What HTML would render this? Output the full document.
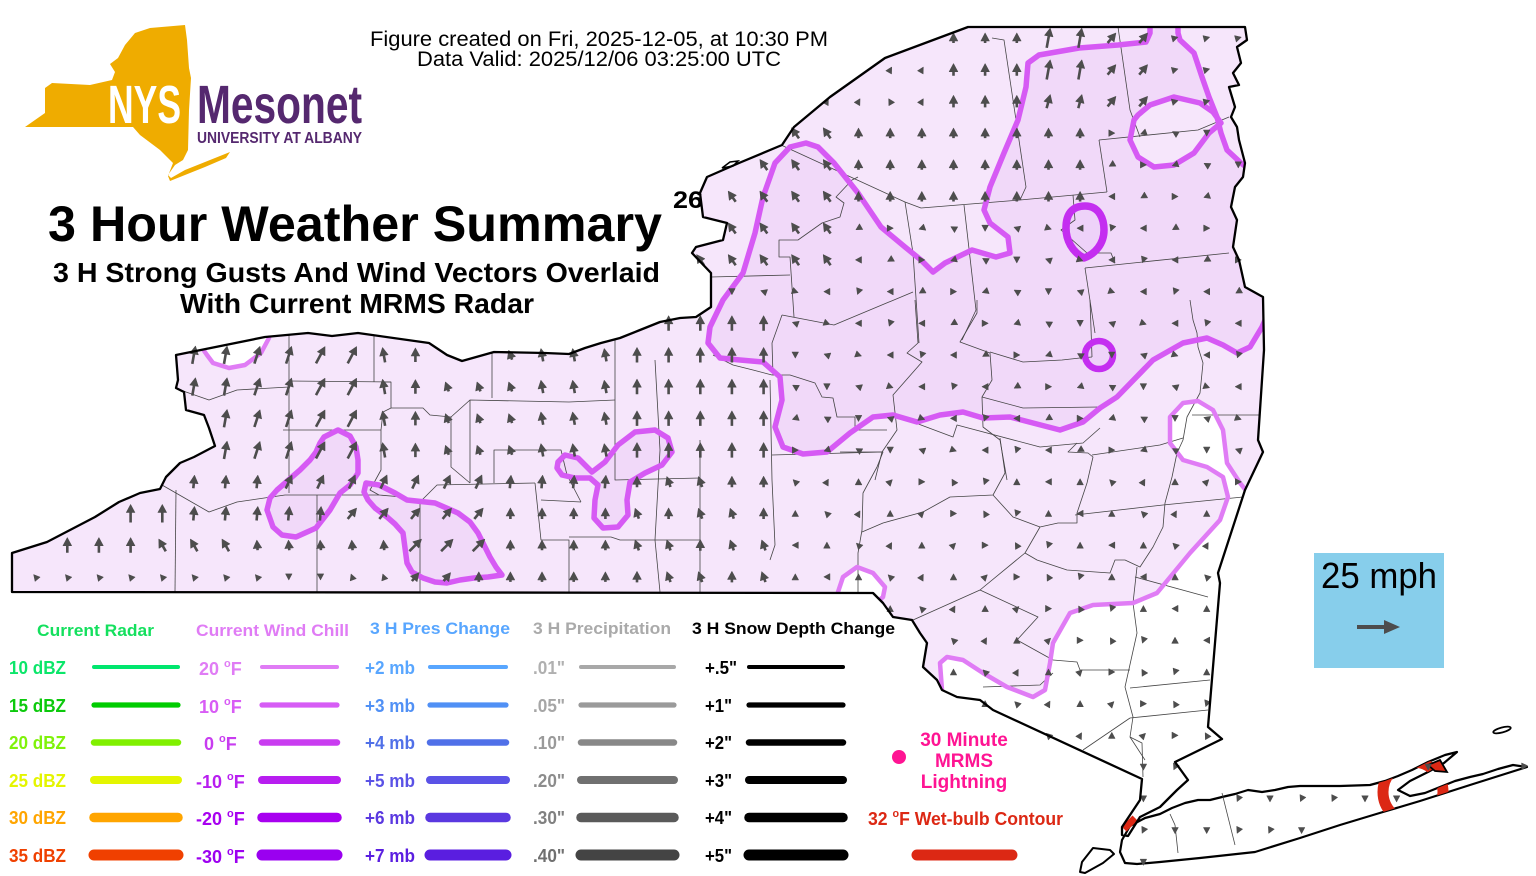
<!DOCTYPE html>
<html>
<head>
<meta charset="utf-8">
<style>
html,body{margin:0;padding:0;background:#fff;}
svg{display:block;}
text{font-family:"Liberation Sans",Arial,sans-serif;}
.b{font-weight:bold;}
</style>
</head>
<body>
<svg id="map" width="1536" height="876" viewBox="0 0 1536 876" xmlns="http://www.w3.org/2000/svg">
<defs>
<clipPath id="stc"><polygon points="12,592 12,553 47,542 95,517 119,502 140,493 160,489 166,477 180,463 194,457 215,446 209,428 204,415 186,410 184,392 176,388 178,380 176,355 265,337 308,333 332,336 358,333 429,343 447,355 462,361 494,352 545,353 569,354 585,348 601,343 620,338 640,330 660,322 680,318 696,317 711,307 711,273 692,253 696,247 723,240 727,223 703,217 700,193 707,177 739,163 782,145 794,127 830,97 885,58 968,27 1245,27 1247,40 1237,47 1241,63 1233,73 1239,85 1229,87 1235,107 1231,117 1237,127 1239,140 1245,163 1243,177 1235,187 1231,207 1237,220 1233,247 1239,260 1245,287 1263,297 1264,350 1258,440 1263,452 1245,490 1218,573 1220,583 1208,727 1222,739 1175,762 1188,780 1177,790 1160,807 1140,817 1128,836 1122,835 1122,827 1140,800 1142,779 993,710 980,700 957,697 942,690 937,680 923,667 927,643 920,633 912,620 893,617 883,603 873,593"/></clipPath>
<clipPath id="lic"><polygon points="1120,852 1122,840 1130,826 1145,818 1160,814 1172,808 1185,803 1198,800 1210,800 1222,797 1235,794 1248,790 1262,792 1275,790 1288,787 1300,786 1340,786 1370,785 1385,781 1398,776 1412,770 1428,762 1445,755 1457,752 1444,763 1428,772 1410,781 1398,790 1410,796 1425,793 1440,787 1455,781 1470,777 1483,774 1498,769 1513,765 1527,767 1470,785 1420,801 1383,812 1340,825 1300,838 1255,852 1200,858 1160,862 1137,864 1125,863"/><polygon points="1428,765 1440,760 1447,772 1435,771"/></clipPath>
</defs>

<polygon id="stp" fill="#fff" points="12,592 12,553 47,542 95,517 119,502 140,493 160,489 166,477 180,463 194,457 215,446 209,428 204,415 186,410 184,392 176,388 178,380 176,355 265,337 308,333 332,336 358,333 429,343 447,355 462,361 494,352 545,353 569,354 585,348 601,343 620,338 640,330 660,322 680,318 696,317 711,307 711,273 692,253 696,247 723,240 727,223 703,217 700,193 707,177 739,163 782,145 794,127 830,97 885,58 968,27 1245,27 1247,40 1237,47 1241,63 1233,73 1239,85 1229,87 1235,107 1231,117 1237,127 1239,140 1245,163 1243,177 1235,187 1231,207 1237,220 1233,247 1239,260 1245,287 1263,297 1264,350 1258,440 1263,452 1245,490 1218,573 1220,583 1208,727 1222,739 1175,762 1188,780 1177,790 1160,807 1140,817 1128,836 1122,835 1122,827 1140,800 1142,779 993,710 980,700 957,697 942,690 937,680 923,667 927,643 920,633 912,620 893,617 883,603 873,593"/>

<g clip-path="url(#stc)">
<polygon fill="#f6e6fb" points="0,0 1300,0 1300,490 1245,490 1240,483 1227,463 1223,430 1213,410 1198,401 1183,403 1170,417 1170,443 1183,460 1207,467 1223,477 1228,497 1220,520 1190,553 1157,593 1133,603 1093,605 1070,613 1053,643 1050,663 1045,690 1033,697 1007,687 983,673 963,660 947,657 940,663 942,690 930,700 0,700"/>
<polygon fill="#f1d9f9" points="1150,15 1150,33 1146,42 1118,45 1079,48 1039,55 1028,63 1026,87 1018,120 1004,153 990,187 984,210 990,223 1008,237 1010,253 996,257 972,250 945,263 933,272 921,260 905,247 881,227 858,193 834,163 818,147 806,143 790,147 775,163 763,197 755,233 743,273 723,300 710,327 708,343 720,358 740,360 763,362 780,377 782,400 775,427 783,447 803,454 827,452 850,433 873,417 893,415 917,422 940,415 963,412 983,418 1010,417 1033,423 1060,430 1083,422 1100,408 1117,397 1153,360 1183,343 1207,338 1223,345 1237,353 1250,347 1262,327 1300,327 1300,163 1245,168 1241,163 1227,150 1221,133 1217,117 1209,97 1202,77 1194,53 1180,40 1178,33 1178,15"/>
<polygon fill="#f6e6fb" points="1134,120 1130,140 1138,157 1154,167 1174,165 1194,153 1209,133 1221,123 1213,112 1200,103 1174,97 1150,105 1138,115"/>
<polygon fill="#fff" points="195,330 200,345 207,355 213,363 229,368 245,365 261,353 269,338 272,325"/>
<polygon fill="#fff" points="836,600 838,592 843,577 857,567 873,573 885,587 883,597 877,602 870,615 836,615"/>
<polygon fill="#f1d9f9" points="338,430 350,436 356,447 358,460 358,473 350,485 340,493 330,510 316,528 296,537 282,535 273,527 267,510 270,498 277,490 300,470 310,460 316,452 320,443 324,437"/>
<polygon fill="#f1d9f9" points="366,483 379,485 395,493 407,500 435,503 458,513 470,522 478,533 484,545 490,557 496,567 502,575 488,577 474,578 460,580 447,583 435,582 423,578 412,572 407,563 405,548 403,533 395,524 387,517 375,508 368,500 364,492"/>
<polygon fill="#f1d9f9" points="558,462 565,455 578,458 592,472 605,462 618,445 635,432 655,430 668,438 672,452 662,465 645,473 630,482 627,500 628,515 618,527 603,528 594,518 595,500 598,485 590,478 575,478 562,475 557,468"/>
<path fill="#eed2f9" d="M1085,206 C1100,206 1104,220 1104,230 C1104,244 1095,254 1084,258 C1072,252 1066,240 1066,228 C1066,214 1072,206 1085,206Z"/>
<circle cx="1099" cy="355" r="14" fill="#eed2f9"/>

<g fill="none" stroke="#444" stroke-width="0.8" stroke-linejoin="round">
<polyline points="176,388 186,392 209,400 237,390 289,387"/>
<polyline points="289,335 289,493"/>
<polyline points="289,381 391,382"/>
<polyline points="283,430 381,430"/>
<polyline points="381,382 391,382 391,408 383,412 381,430 381,470 370,490 379,495"/>
<polyline points="374,335 374,382"/>
<polyline points="162,485 209,512 237,502 285,495 379,495 403,497 420,502"/>
<polyline points="176,490 175,592"/>
<polyline points="317,495 317,592"/>
<polyline points="420,502 420,592"/>
<polyline points="420,502 437,485 535,483"/>
<polyline points="391,408 423,408 430,415 451,417 451,467 470,483"/>
<polyline points="451,417 470,400 569,402 615,400"/>
<polyline points="470,400 470,483"/>
<polyline points="492,353 492,398"/>
<polyline points="615,340 615,480 700,478"/>
<polyline points="494,483 494,450 561,450 567,475 581,502"/>
<polyline points="535,483 541,540 569,540 569,592"/>
<polyline points="541,500 581,502"/>
<polyline points="569,537 611,537 620,540 700,540"/>
<polyline points="655,360 660,450 655,540 660,592"/>
<polyline points="700,440 700,592"/>
<polyline points="992,38 1004,40 1016,120 1026,187 1020,200"/>
<polyline points="1118,27 1130,110 1140,137"/>
<polyline points="781,145 905,202 921,208 1020,200 1107,192"/>
<polyline points="1099,140 1107,192"/>
<polyline points="1099,140 1198,130 1229,117"/>
<polyline points="905,202 913,253 919,343"/>
<polyline points="964,205 976,310 962,340"/>
<polyline points="1073,195 1075,220 1061,230 1087,253 1111,253 1115,263"/>
<polyline points="1085,268 1229,253"/>
<polyline points="1085,268 1095,333"/>
<polyline points="858,177 852,180 836,197 844,203 840,217 822,223 798,240 779,240 779,257 790,257 794,317"/>
<polyline points="711,277 790,275"/>
<polyline points="782,315 834,325 913,292"/>
<polyline points="782,315 772,343 773,375"/>
<polyline points="713,355 733,365 753,370 772,375 790,375 815,383 822,397 833,398 837,417 855,417 855,430 887,430"/>
<polyline points="915,300 918,343 907,353 922,362 893,395 897,430 882,452 875,480"/>
<polyline points="977,300 977,313 960,342 990,353 992,380 982,397 983,427 1000,440 1007,480"/>
<polyline points="990,352 1023,362 1062,360 1080,358 1092,357"/>
<polyline points="982,397 1023,408 1100,407"/>
<polyline points="913,422 953,437 957,425 1040,447 1083,443 1100,428"/>
<polyline points="772,455 882,452"/>
<polyline points="770,380 772,480 775,545 770,560"/>
<polyline points="1090,300 1092,357"/>
<polyline points="840,452 883,452 877,467 863,493 862,530 858,553 858,592"/>
<polyline points="1000,438 1005,473 993,495 950,497 923,512 883,523 862,532"/>
<polyline points="993,495 1013,517 1040,527 1058,523 1077,523 1077,513 1087,483 1093,457 1088,453 1068,452 1077,443"/>
<polyline points="1040,527 1025,553 1037,560 1067,570 1110,573 1115,560 1125,560 1140,567 1153,547 1163,527 1165,503 1172,477 1177,453 1183,440 1187,417 1200,393 1203,363 1198,347 1197,333 1193,320 1190,300"/>
<polyline points="1092,455 1160,445 1183,438"/>
<polyline points="1075,515 1163,505 1243,497"/>
<polyline points="1192,415 1260,415"/>
<polyline points="1025,553 980,590 913,620"/>
<polyline points="980,590 1038,617 1017,640 1053,660"/>
<polyline points="1137,567 1133,603 1137,633 1125,687 1133,717 1130,737 1145,760"/>
<polyline points="1135,577 1208,597"/>
<polyline points="1053,660 1077,662 1080,670 1130,670"/>
<polyline points="983,687 1040,685 1053,673"/>
<polyline points="1130,688 1210,680"/>
<polyline points="1130,718 1208,710"/>
<polyline points="1130,718 1083,750"/>
<polyline points="1130,737 1142,743 1143,777"/>
</g>

<g fill="none" stroke-linejoin="round" stroke-linecap="round">
<polyline stroke="#e07cf5" stroke-width="4.5" points="942,690 940,663 947,657 963,660 983,673 1007,687 1033,697 1045,690 1050,663 1053,643 1070,613 1093,605 1133,603 1157,593 1190,553 1220,520 1228,497 1223,477 1207,467 1183,460 1170,443 1170,417 1183,403 1198,401 1213,410 1223,430 1227,463 1240,483 1248,493"/>
<polyline stroke="#e07cf5" stroke-width="4.5" points="195,330 200,345 207,355 213,363 229,368 245,365 261,353 269,338 272,325"/>
<polyline stroke="#e07cf5" stroke-width="4.5" points="836,600 838,592 843,577 857,567 873,573 885,587 883,597 877,602"/>
<polyline stroke="#d65af4" stroke-width="5.5" points="1150,15 1150,33 1146,42 1118,45 1079,48 1039,55 1028,63 1026,87 1018,120 1004,153 990,187 984,210 990,223 1008,237 1010,253 996,257 972,250 945,263 933,272 921,260 905,247 881,227 858,193 834,163 818,147 806,143 790,147 775,163 763,197 755,233 743,273 723,300 710,327 708,343 720,358 740,360 763,362 780,377 782,400 775,427 783,447 803,454 827,452 850,433 873,417 893,415 917,422 940,415 963,412 983,418 1010,417 1033,423 1060,430 1083,422 1100,408 1117,397 1153,360 1183,343 1207,338 1223,345 1237,353 1250,347 1262,327 1266,318"/>
<polyline stroke="#d65af4" stroke-width="5.5" points="1178,15 1178,33 1180,40 1194,53 1202,77 1209,97 1217,117 1221,133 1227,150 1241,163 1250,170"/>
<polygon stroke="#d65af4" stroke-width="5.5" points="1134,120 1130,140 1138,157 1154,167 1174,165 1194,153 1209,133 1221,123 1213,112 1200,103 1174,97 1150,105 1138,115"/>
<polygon stroke="#d65af4" stroke-width="5.5" points="338,430 350,436 356,447 358,460 358,473 350,485 340,493 330,510 316,528 296,537 282,535 273,527 267,510 270,498 277,490 300,470 310,460 316,452 320,443 324,437"/>
<polygon stroke="#d65af4" stroke-width="5.5" points="366,483 379,485 395,493 407,500 435,503 458,513 470,522 478,533 484,545 490,557 496,567 502,575 488,577 474,578 460,580 447,583 435,582 423,578 412,572 407,563 405,548 403,533 395,524 387,517 375,508 368,500 364,492"/>
<polygon stroke="#d65af4" stroke-width="5.5" points="558,462 565,455 578,458 592,472 605,462 618,445 635,432 655,430 668,438 672,452 662,465 645,473 630,482 627,500 628,515 618,527 603,528 594,518 595,500 598,485 590,478 575,478 562,475 557,468"/>
<path stroke="#c42ef0" stroke-width="7.5" d="M1085,206 C1100,206 1104,220 1104,230 C1104,244 1095,254 1084,258 C1072,252 1066,240 1066,228 C1066,214 1072,206 1085,206Z"/>
<circle cx="1099" cy="355" r="14" stroke="#c42ef0" stroke-width="6.5"/>
</g>
</g>

<polygon id="lip" fill="#fff" stroke="#000" stroke-width="2.2" stroke-linejoin="round" points="1120,852 1122,840 1130,826 1145,818 1160,814 1172,808 1185,803 1198,800 1210,800 1222,797 1235,794 1248,790 1262,792 1275,790 1288,787 1300,786 1340,786 1370,785 1385,781 1398,776 1412,770 1428,762 1445,755 1457,752 1444,763 1428,772 1410,781 1398,790 1410,796 1425,793 1440,787 1455,781 1470,777 1483,774 1498,769 1513,765 1527,767 1470,785 1420,801 1383,812 1340,825 1300,838 1255,852 1200,858 1160,862 1137,864 1125,863"/>
<g fill="none" stroke="#444" stroke-width="0.8">
<polyline points="1222,793 1235,845"/>
<polyline points="1170,814 1175,825 1178,853"/>
</g>
<g clip-path="url(#lic)">
<circle cx="1413" cy="792" r="30" fill="none" stroke="#dc2814" stroke-width="11"/>
<polygon fill="#dc2814" points="1428,765 1440,760 1447,772 1435,771"/>
</g>
<polygon fill="none" stroke="#000" stroke-width="1.8" points="1428,765 1440,760 1447,772 1435,771"/>
<polygon fill="#fff" stroke="#000" stroke-width="2" stroke-linejoin="round" points="1080,872 1082,862 1093,848 1110,850 1114,854 1103,863 1085,873"/>
<ellipse cx="1502" cy="730" rx="9" ry="2.5" transform="rotate(-15 1502 730)" fill="#fff" stroke="#000" stroke-width="1.8"/>
<polygon fill="#fff" stroke="#000" stroke-width="1.5" points="722,168 730,162 738,161 733,166"/>
<line x1="1124" y1="829" x2="1135" y2="818" stroke="#dc2814" stroke-width="7"/>

<path id="ash" fill="none" stroke="#4d4d4d" stroke-width="2.6" d=""/>
<path id="ahd" fill="#4d4d4d" stroke="#4d4d4d" stroke-width="0.6" stroke-linejoin="round" d=""/>

<polygon fill="none" stroke="#000" stroke-width="2.3" stroke-linejoin="round" points="12,592 12,553 47,542 95,517 119,502 140,493 160,489 166,477 180,463 194,457 215,446 209,428 204,415 186,410 184,392 176,388 178,380 176,355 265,337 308,333 332,336 358,333 429,343 447,355 462,361 494,352 545,353 569,354 585,348 601,343 620,338 640,330 660,322 680,318 696,317 711,307 711,273 692,253 696,247 723,240 727,223 703,217 700,193 707,177 739,163 782,145 794,127 830,97 885,58 968,27 1245,27 1247,40 1237,47 1241,63 1233,73 1239,85 1229,87 1235,107 1231,117 1237,127 1239,140 1245,163 1243,177 1235,187 1231,207 1237,220 1233,247 1239,260 1245,287 1263,297 1264,350 1258,440 1263,452 1245,490 1218,573 1220,583 1208,727 1222,739 1175,762 1188,780 1177,790 1160,807 1140,817 1128,836 1122,835 1122,827 1140,800 1142,779 993,710 980,700 957,697 942,690 937,680 923,667 927,643 920,633 912,620 893,617 883,603 873,593"/>

<polygon fill="#efac00" points="25,127 45,113 45,88 52,83 90,85 112,80 115,72 110,64 118,58 125,45 135,33 150,28 185,25 187,40 189,68 191,78 189,110 188,150 183,160 175,165 168,175 171,178 185,170 200,164 215,158 230,152 226,158 205,167 185,175 170,181 168,176 173,163 160,150 140,135 133,127"/>
<text x="108" y="123" class="b" font-family="'Liberation Sans Narrow','Liberation Sans',sans-serif" font-size="54" fill="#fff" textLength="73" lengthAdjust="spacingAndGlyphs">NYS</text>
<text x="197" y="123" class="b" font-family="'Liberation Sans Narrow','Liberation Sans',sans-serif" font-size="54" fill="#55286f" textLength="165" lengthAdjust="spacingAndGlyphs">Mesonet</text>
<text x="197" y="143" class="b" font-family="'Liberation Sans Narrow','Liberation Sans',sans-serif" font-size="16" fill="#55286f" textLength="165" lengthAdjust="spacingAndGlyphs">UNIVERSITY AT ALBANY</text>

<text x="370" y="46" font-size="21" fill="#000" textLength="458" lengthAdjust="spacingAndGlyphs">Figure created on Fri, 2025-12-05, at 10:30 PM</text>
<text x="417" y="66" font-size="21" fill="#000" textLength="364" lengthAdjust="spacingAndGlyphs">Data Valid: 2025/12/06 03:25:00 UTC</text>
<text x="48" y="241" class="b" font-size="50" fill="#000" textLength="614" lengthAdjust="spacingAndGlyphs">3 Hour Weather Summary</text>
<text x="53" y="282" class="b" font-size="28" fill="#000" textLength="607" lengthAdjust="spacingAndGlyphs">3 H Strong Gusts And Wind Vectors Overlaid</text>
<text x="180" y="313" class="b" font-size="28" fill="#000" textLength="354" lengthAdjust="spacingAndGlyphs">With Current MRMS Radar</text>
<text x="673" y="208" class="b" font-size="24" fill="#000" textLength="30" lengthAdjust="spacingAndGlyphs">26</text>

<rect x="1314" y="553" width="130" height="115" fill="#87ceeb"/>
<text x="1321" y="588" font-size="36" fill="#000" textLength="116" lengthAdjust="spacingAndGlyphs">25 mph</text>
<line x1="1357" y1="627" x2="1386" y2="627" stroke="#4d4d4d" stroke-width="4"/>
<polygon fill="#4d4d4d" points="1400,627 1384,620 1384,634"/>

<g class="b" font-weight="bold">
<text x="37" y="636" font-size="17" fill="#14e05e" textLength="117" lengthAdjust="spacingAndGlyphs">Current Radar</text>
<text x="196" y="636" font-size="17" fill="#e07cf5" textLength="153" lengthAdjust="spacingAndGlyphs">Current Wind Chill</text>
<text x="370" y="634" font-size="17" fill="#58a6ff" textLength="140" lengthAdjust="spacingAndGlyphs">3 H Pres Change</text>
<text x="533" y="634" font-size="17" fill="#aaaaaa" textLength="138" lengthAdjust="spacingAndGlyphs">3 H Precipitation</text>
<text x="692" y="634" font-size="17" fill="#000" textLength="203" lengthAdjust="spacingAndGlyphs">3 H Snow Depth Change</text>

<g font-size="18">
<text x="9" y="674" fill="#0be66a" textLength="57" lengthAdjust="spacingAndGlyphs">10 dBZ</text>
<text x="9" y="712" fill="#0cc90c" textLength="57" lengthAdjust="spacingAndGlyphs">15 dBZ</text>
<text x="9" y="749" fill="#7ff20a" textLength="57" lengthAdjust="spacingAndGlyphs">20 dBZ</text>
<text x="9" y="787" fill="#e4f500" textLength="57" lengthAdjust="spacingAndGlyphs">25 dBZ</text>
<text x="9" y="824" fill="#ffa500" textLength="57" lengthAdjust="spacingAndGlyphs">30 dBZ</text>
<text x="9" y="862" fill="#ef4000" textLength="57" lengthAdjust="spacingAndGlyphs">35 dBZ</text>

<text x="199" y="675" fill="#e07cf5">20 <tspan font-size="11" dy="-8">o</tspan><tspan dy="8">F</tspan></text>
<text x="199" y="713" fill="#d85cf5">10 <tspan font-size="11" dy="-8">o</tspan><tspan dy="8">F</tspan></text>
<text x="204" y="750" fill="#c83cf0">0 <tspan font-size="11" dy="-8">o</tspan><tspan dy="8">F</tspan></text>
<text x="196" y="788" fill="#b81ef0">-10 <tspan font-size="11" dy="-8">o</tspan><tspan dy="8">F</tspan></text>
<text x="196" y="825" fill="#a800f0">-20 <tspan font-size="11" dy="-8">o</tspan><tspan dy="8">F</tspan></text>
<text x="196" y="863" fill="#9c00f0">-30 <tspan font-size="11" dy="-8">o</tspan><tspan dy="8">F</tspan></text>

<text x="365" y="674" fill="#58a6ff" textLength="50" lengthAdjust="spacingAndGlyphs">+2 mb</text>
<text x="365" y="712" fill="#5090f5" textLength="50" lengthAdjust="spacingAndGlyphs">+3 mb</text>
<text x="365" y="749" fill="#5070e8" textLength="50" lengthAdjust="spacingAndGlyphs">+4 mb</text>
<text x="365" y="787" fill="#5a52e6" textLength="50" lengthAdjust="spacingAndGlyphs">+5 mb</text>
<text x="365" y="824" fill="#5a38e0" textLength="50" lengthAdjust="spacingAndGlyphs">+6 mb</text>
<text x="365" y="862" fill="#5a1ee0" textLength="50" lengthAdjust="spacingAndGlyphs">+7 mb</text>

<text x="533" y="674" fill="#b0b0b0" textLength="32" lengthAdjust="spacingAndGlyphs">.01"</text>
<text x="533" y="712" fill="#a6a6a6" textLength="32" lengthAdjust="spacingAndGlyphs">.05"</text>
<text x="533" y="749" fill="#9a9a9a" textLength="32" lengthAdjust="spacingAndGlyphs">.10"</text>
<text x="533" y="787" fill="#8c8c8c" textLength="32" lengthAdjust="spacingAndGlyphs">.20"</text>
<text x="533" y="824" fill="#808080" textLength="32" lengthAdjust="spacingAndGlyphs">.30"</text>
<text x="533" y="862" fill="#707070" textLength="32" lengthAdjust="spacingAndGlyphs">.40"</text>

<text x="705" y="674" fill="#000" textLength="32" lengthAdjust="spacingAndGlyphs">+.5"</text>
<text x="705" y="712" fill="#000" textLength="27" lengthAdjust="spacingAndGlyphs">+1"</text>
<text x="705" y="749" fill="#000" textLength="27" lengthAdjust="spacingAndGlyphs">+2"</text>
<text x="705" y="787" fill="#000" textLength="27" lengthAdjust="spacingAndGlyphs">+3"</text>
<text x="705" y="824" fill="#000" textLength="27" lengthAdjust="spacingAndGlyphs">+4"</text>
<text x="705" y="862" fill="#000" textLength="27" lengthAdjust="spacingAndGlyphs">+5"</text>
</g>

<g font-size="19" fill="#ff1493" text-anchor="middle">
<text x="964" y="746">30 Minute</text>
<text x="964" y="767">MRMS</text>
<text x="964" y="788">Lightning</text>
</g>
<circle cx="899" cy="757" r="7" fill="#ff1493"/>
<text x="868" y="825" font-size="18" fill="#dc2814" textLength="195" lengthAdjust="spacingAndGlyphs">32 <tspan font-size="11" dy="-8">o</tspan><tspan dy="8">F Wet-bulb Contour</tspan></text>
</g>

<g stroke-linecap="round" fill="none">
<line x1="94" y1="667" x2="178" y2="667" stroke="#00e66e" stroke-width="4"/>
<line x1="94" y1="705" x2="178" y2="705" stroke="#00cc00" stroke-width="5.2"/>
<line x1="94" y1="742.5" x2="178" y2="742.5" stroke="#80f000" stroke-width="6.5"/>
<line x1="94" y1="780" x2="178" y2="780" stroke="#e4f500" stroke-width="8"/>
<line x1="94" y1="817.5" x2="178" y2="817.5" stroke="#ffa500" stroke-width="9.5"/>
<line x1="94" y1="855" x2="178" y2="855" stroke="#f04000" stroke-width="11"/>

<line x1="262" y1="667" x2="337" y2="667" stroke="#e07cf5" stroke-width="4"/>
<line x1="262" y1="705" x2="337" y2="705" stroke="#d65cf5" stroke-width="5.2"/>
<line x1="262" y1="742.5" x2="337" y2="742.5" stroke="#c93cf0" stroke-width="6.5"/>
<line x1="262" y1="780" x2="337" y2="780" stroke="#b81ef0" stroke-width="8"/>
<line x1="262" y1="817.5" x2="337" y2="817.5" stroke="#a800f0" stroke-width="9.5"/>
<line x1="262" y1="855" x2="337" y2="855" stroke="#9a00f0" stroke-width="11"/>

<line x1="430" y1="667" x2="506" y2="667" stroke="#58a6ff" stroke-width="4"/>
<line x1="430" y1="705" x2="506" y2="705" stroke="#5090f5" stroke-width="5.2"/>
<line x1="430" y1="742.5" x2="506" y2="742.5" stroke="#5070e8" stroke-width="6.5"/>
<line x1="430" y1="780" x2="506" y2="780" stroke="#5a52e6" stroke-width="8"/>
<line x1="430" y1="817.5" x2="506" y2="817.5" stroke="#5a38e0" stroke-width="9.5"/>
<line x1="430" y1="855" x2="506" y2="855" stroke="#5a1ee0" stroke-width="11"/>

<line x1="581" y1="667" x2="674" y2="667" stroke="#a8a8a8" stroke-width="4"/>
<line x1="581" y1="705" x2="674" y2="705" stroke="#9a9a9a" stroke-width="5.2"/>
<line x1="581" y1="742.5" x2="674" y2="742.5" stroke="#888888" stroke-width="6.5"/>
<line x1="581" y1="780" x2="674" y2="780" stroke="#707070" stroke-width="8"/>
<line x1="581" y1="817.5" x2="674" y2="817.5" stroke="#5a5a5a" stroke-width="9.5"/>
<line x1="581" y1="855" x2="674" y2="855" stroke="#444444" stroke-width="11"/>

<line x1="749" y1="667" x2="843" y2="667" stroke="#000" stroke-width="4"/>
<line x1="749" y1="705" x2="843" y2="705" stroke="#000" stroke-width="5.2"/>
<line x1="749" y1="742.5" x2="843" y2="742.5" stroke="#000" stroke-width="6.5"/>
<line x1="749" y1="780" x2="843" y2="780" stroke="#000" stroke-width="8"/>
<line x1="749" y1="817.5" x2="843" y2="817.5" stroke="#000" stroke-width="9.5"/>
<line x1="749" y1="855" x2="843" y2="855" stroke="#000" stroke-width="11"/>

<line x1="917" y1="855" x2="1012" y2="855" stroke="#dc2814" stroke-width="11"/>
</g>
</svg>
<script>
(function(){
function pts(id){var s=document.getElementById(id).getAttribute('points').trim().split(/\s+/);return s.map(function(p){var a=p.split(',');return [+a[0],+a[1]];});}
var P1=pts('stp'),P2=pts('lip');
function inside(x,y,P){var c=false;for(var i=0,j=P.length-1;i<P.length;j=i++){var xi=P[i][0],yi=P[i][1],xj=P[j][0],yj=P[j][1];if(((yi>y)!=(yj>y))&&(x<(xj-xi)*(y-yi)/(yj-yi)+xi))c=!c;}return c;}
function fld(x,y,i,j){
 var h=(i*7+j*13)%10;
 if(y>750) return [h<5?180:205,7];
 if(x<620){
  if(y<470){ if(x<240) return [10,18]; if(x<300) return [18,18]; if(x<370) return [28,19]; if(x<400) return [-10,15]; if(x<430) return [0,14]; if(x<530) return [-20,10]; return [-10,13]; }
  if(y<500){ if(x<280) return [5,13]; if(x<500) return [25,15]; return [5,13]; }
  if(y<530){ if(x<180) return [0,18]; if(x<340) return [5,14]; if(x<500) return [40,14]; return [0,11]; }
  if(y<560){ if(x<140) return [0,15]; if(x<240) return [-30,14]; if(x<400) return [-5,10]; if(x<500) return [45,17]; return [0,10]; }
  if(x<280) return [-40,8]; if(x<340) return [180,6]; if(x<400) return [-20,8]; if(x<470) return [40,11]; return [0,10];
 }
 if(x<780 && y>320){ if(y<470) return [0,15]; return [h<5?0:-20,11]; }
 if(y<125){
  if(x<940) return [h<5?-30:30,7];
  if(x<1035) return [0,y<60?10:12];
  if(x<1100) return [y<90?10:15,y<90?20:14];
  if(x<1160) return [40,13];
  return [75,8];
 }
 if(y<285 && x<850) return [-35,13];
 if(y<200 && x<1100) return [0,10];
 if(y<460){ var a=[270,250,290,200,90,180,270,240,300,110]; return [a[h],6]; }
 var b=[0,0,330,270,30,90,0,315,45,200]; return [b[h],7];
}
var sh='',hd='';
for(var j=0;j<27;j++){var y=38+31.7*j;for(var i=0;i<49;i++){var x=4+31.65*i;
 if(!(inside(x,y,P1)||inside(x,y,P2)))continue;
 var f=fld(x,y,i,j),a=f[0]*Math.PI/180,L=f[1];
 var dx=Math.sin(a),dy=-Math.cos(a);
 var small=L<=8,H=small?6:8,W=small?3.2:4.3; if(small)L=6;
 var tx=x+dx*L/2,ty=y+dy*L/2,bx=tx-dx*H,by=ty-dy*H,nx=-dy,ny=dx;
 hd+='M'+tx.toFixed(1)+' '+ty.toFixed(1)+'L'+(bx+nx*W).toFixed(1)+' '+(by+ny*W).toFixed(1)+'L'+(bx-nx*W).toFixed(1)+' '+(by-ny*W).toFixed(1)+'Z';
 if(L>H+1){var sx=x-dx*L/2,sy=y-dy*L/2;sh+='M'+sx.toFixed(1)+' '+sy.toFixed(1)+'L'+(bx+dx).toFixed(1)+' '+(by+dy).toFixed(1);}
}}
document.getElementById('ash').setAttribute('d',sh);
document.getElementById('ahd').setAttribute('d',hd);
})();
</script>
</body>
</html>
